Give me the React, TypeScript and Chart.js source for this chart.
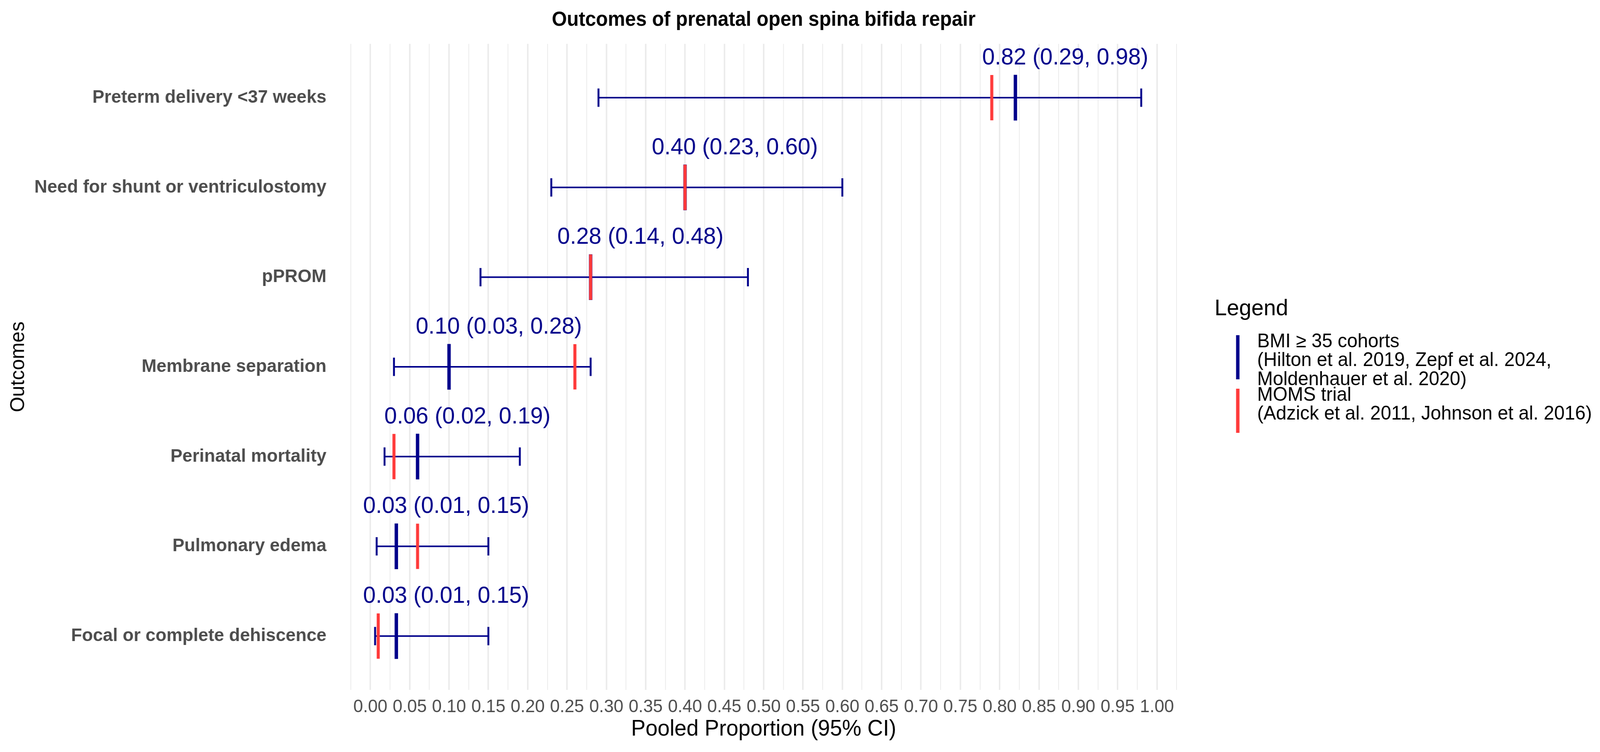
import React, { useEffect, useRef } from "react";
import { Chart, registerables } from "chart.js";

Chart.register(...registerables);

// ---------------- data ----------------
const outcomes = [
  "Preterm delivery <37 weeks",
  "Need for shunt or ventriculostomy",
  "pPROM",
  "Membrane separation",
  "Perinatal mortality",
  "Pulmonary edema",
  "Focal or complete dehiscence",
];
const bmiEstimate = [0.82, 0.4, 0.28, 0.1, 0.06, 0.033, 0.033];
const bmiLower = [0.29, 0.23, 0.14, 0.03, 0.018, 0.008, 0.006];
const bmiUpper = [0.98, 0.6, 0.48, 0.28, 0.19, 0.15, 0.15];
const momsEstimate = [0.79, 0.4, 0.28, 0.26, 0.03, 0.06, 0.01];

const xBreaks = [
  0, 0.05, 0.1, 0.15, 0.2, 0.25, 0.3, 0.35, 0.4, 0.45, 0.5, 0.55, 0.6, 0.65,
  0.7, 0.75, 0.8, 0.85, 0.9, 0.95, 1.0,
];

const legendTitle = "Legend";
const legendSeriesNames = ["BMI ≥ 35 cohorts", "MOMS trial"];
const legendLabels = [
  [
    "BMI ≥ 35 cohorts",
    "(Hilton et al. 2019, Zepf et al. 2024,",
    "Moldenhauer et al. 2020)",
  ],
  ["MOMS trial", "(Adzick et al. 2011, Johnson et al. 2016)"],
];

const chartTitle = "Outcomes of prenatal open spina bifida repair";
const xTitle = "Pooled Proportion (95% CI)";
const yTitle = "Outcomes";

// ---------------- styles ----------------
const FONT = "'Liberation Sans', Arial, Helvetica, sans-serif";
const NAVY = "#00008B";
const RED = "#FF3A3A";
const GRID = "#EBEBEB";
const AXIS_TEXT = "#4D4D4D";

// drawing surface is 4205 px wide; it is shown in the visible photo width
const DRAW_W = 4205;
const DRAW_H = 1925;
const SHOW_W = 4096;

// gridlines: majors at the breaks plus minors half-way (and half a step beyond)
const gridValues: number[] = (() => {
  const vals: number[] = [];
  const step = xBreaks[1] - xBreaks[0];
  vals.push(xBreaks[0] - step / 2);
  xBreaks.forEach((b, i) => {
    vals.push(b);
    if (i < xBreaks.length - 1) vals.push((b + xBreaks[i + 1]) / 2);
  });
  vals.push(xBreaks[xBreaks.length - 1] + step / 2);
  return vals;
})();
const isBreak = (v: number) => xBreaks.some((b) => Math.abs(b - v) < 1e-9);

const estimateLabelPlugin = {
  id: "estimateLabels",
  afterDatasetsDraw(chart: any) {
    const { ctx } = chart;
    const x = chart.scales.x;
    const y = chart.scales.y;
    ctx.save();
    ctx.font = `59.5px ${FONT}`;
    ctx.fillStyle = NAVY;
    ctx.textAlign = "left";
    ctx.textBaseline = "alphabetic";
    outcomes.forEach((_, i) => {
      const txt = `${bmiEstimate[i].toFixed(2)} (${bmiLower[i].toFixed(
        2
      )}, ${bmiUpper[i].toFixed(2)})`;
      const w = ctx.measureText(txt).width;
      const px = x.getPixelForValue(bmiEstimate[i]);
      const py = y.getPixelForValue(i);
      ctx.fillText(txt, px - 0.2 * w, py - 85);
    });
    ctx.restore();
  },
};

const customLegendPlugin = {
  id: "customLegend",
  afterDraw(chart: any) {
    const { ctx, chartArea } = chart;
    const left = chartArea.right + 48;
    ctx.save();
    ctx.fillStyle = "#000";
    ctx.textAlign = "left";
    ctx.textBaseline = "middle";
    ctx.font = `58px ${FONT}`;
    ctx.fillText(legendTitle, left, 791);

    const colors = [NAVY, RED];
    const keyTops = [858, 995];
    const keyLen = 113;
    const lineGap = 48.5;
    ctx.font = `49.5px ${FONT}`;
    legendLabels.forEach((lines, k) => {
      const top = keyTops[k];
      ctx.strokeStyle = colors[k];
      ctx.lineWidth = 9;
      ctx.beginPath();
      ctx.moveTo(left + 61, top);
      ctx.lineTo(left + 61, top + keyLen);
      ctx.stroke();
      lines.forEach((ln, j) => {
        ctx.fillText(ln, left + 112, top + 17 + j * lineGap);
      });
    });
    ctx.restore();
  },
};

export default function App() {
  const canvasRef = useRef<HTMLCanvasElement | null>(null);

  useEffect(() => {
    document.body.style.margin = "0";
    document.body.style.overflow = "hidden";
    const canvas = canvasRef.current;
    if (!canvas) return;

    const ciDatasets = outcomes.map((name, i) => ({
      label: `CI ${name}`,
      data: [
        { x: bmiLower[i], y: i },
        { x: bmiUpper[i], y: i },
      ],
      showLine: true,
      borderColor: NAVY,
      borderWidth: 4,
      pointRadius: 0,
      order: 4,
    }));

    const chart = new Chart(canvas, {
      type: "scatter",
      data: {
        datasets: [
          ...ciDatasets,
          {
            label: "CI caps",
            data: [
              ...outcomes.map((_, i) => ({ x: bmiLower[i], y: i })),
              ...outcomes.map((_, i) => ({ x: bmiUpper[i], y: i })),
            ],
            pointStyle: "line",
            rotation: 90,
            pointRadius: 23.5,
            borderColor: NAVY,
            backgroundColor: NAVY,
            borderWidth: 5,
            order: 3,
          },
          {
            label: legendSeriesNames[0],
            data: outcomes.map((_, i) => ({ x: bmiEstimate[i], y: i })),
            pointStyle: "line",
            rotation: 90,
            pointRadius: 58.5,
            borderColor: NAVY,
            backgroundColor: NAVY,
            borderWidth: 9,
            order: 2,
          },
          {
            label: legendSeriesNames[1],
            data: outcomes.map((_, i) => ({ x: momsEstimate[i], y: i })),
            pointStyle: "line",
            rotation: 90,
            pointRadius: 58,
            borderColor: RED,
            backgroundColor: RED,
            borderWidth: 8,
            order: 1,
          },
        ] as any,
      },
      options: {
        animation: false,
        responsive: false,
        devicePixelRatio: 1,
        events: [],
        layout: { padding: { left: 0, right: 1061, top: 0, bottom: 0 } },
        plugins: {
          legend: { display: false },
          tooltip: { enabled: false },
          title: {
            display: true,
            text: chartTitle,
            fullSize: false,
            color: "#000",
            font: { family: FONT, size: 51, weight: "bold" },
            padding: { top: 21, bottom: 30 },
          },
        },
        scales: {
          x: {
            type: "linear",
            min: -0.05,
            max: 1.05,
            afterBuildTicks: (scale: any) => {
              scale.ticks = gridValues.map((v) => ({ value: v }));
            },
            afterFit: (scale: any) => {
              scale.height = 159;
            },
            ticks: {
              autoSkip: false,
              maxRotation: 0,
              minRotation: 0,
              padding: 17,
              color: AXIS_TEXT,
              font: { family: FONT, size: 46 },
              callback: (v: any) => (isBreak(Number(v)) ? Number(v).toFixed(2) : ""),
            },
            grid: {
              color: GRID,
              drawTicks: false,
              lineWidth: (c: any) => (c.tick && isBreak(c.tick.value) ? 4 : 2),
            },
            border: { display: false },
            title: {
              display: true,
              text: xTitle,
              color: "#000",
              font: { family: FONT, size: 57 },
              padding: { top: 0, bottom: 24 },
            },
          },
          y: {
            type: "linear",
            min: -0.6,
            max: outcomes.length - 1 + 0.6,
            reverse: true,
            afterBuildTicks: (scale: any) => {
              scale.ticks = outcomes.map((_, i) => ({ value: i }));
            },
            afterFit: (scale: any) => {
              scale.width = 870;
            },
            ticks: {
              autoSkip: false,
              padding: 12,
              color: AXIS_TEXT,
              font: { family: FONT, size: 47, weight: "bold" },
              callback: (v: any) => outcomes[Number(v)] ?? "",
            },
            grid: { display: false, drawTicks: false },
            border: { display: false },
            title: {
              display: true,
              text: yTitle,
              color: "#000",
              font: { family: FONT, size: 51 },
              padding: { top: 18, bottom: 0 },
            },
          },
        },
      } as any,
      plugins: [estimateLabelPlugin, customLegendPlugin],
    });

    return () => chart.destroy();
  }, []);

  return (
    <div style={{ width: SHOW_W, height: DRAW_H, background: "#fff" }}>
      <canvas
        ref={canvasRef}
        width={DRAW_W}
        height={DRAW_H}
        style={{ display: "block", width: SHOW_W, height: DRAW_H }}
      />
    </div>
  );
}
